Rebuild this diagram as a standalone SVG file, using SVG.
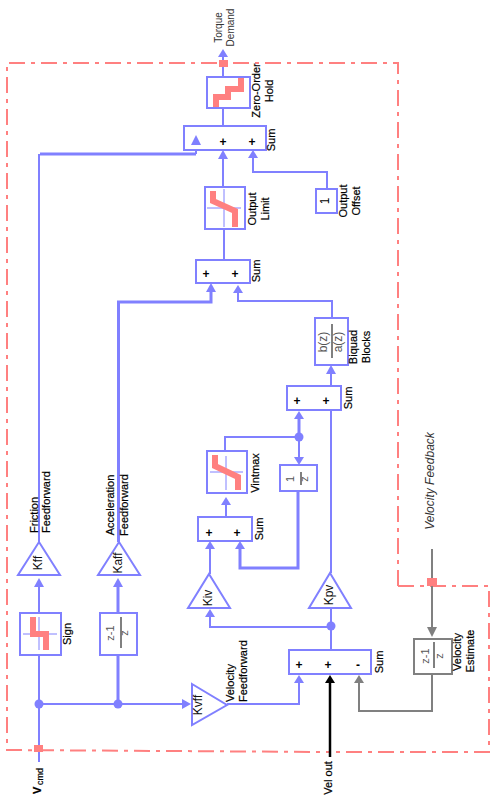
<svg xmlns="http://www.w3.org/2000/svg" width="503" height="800" viewBox="0 0 503 800">
<style>
text{font-family:"Liberation Sans",Arial,sans-serif;font-size:11px;fill:#000;stroke:#000;stroke-width:.2}
.m{text-anchor:middle}
.g{font-size:12px;fill:#111;text-anchor:middle}
.t{font-size:11px;fill:#555;stroke:none;text-anchor:middle}
.p{font-weight:bold;font-size:12px;text-anchor:middle;stroke:none}
.box{fill:#fff;stroke:#8080ff;stroke-width:2}
.gbox{fill:#fff;stroke:#808080;stroke-width:2}
.w{fill:none;stroke:#8080ff;stroke-width:2}
.w3{fill:none;stroke:#8080ff;stroke-width:3}
.gw{fill:none;stroke:#808080;stroke-width:2}
.xh{fill:none;stroke:#8080ff;stroke-width:1}
.pk{fill:none;stroke:#ff8080;stroke-width:6}
.dv{stroke:#808080;stroke-width:2}
.af{fill:#8080ff}
.ag{fill:#808080}
.border{fill:none;stroke:#ff8080;stroke-width:2;stroke-dasharray:16 6 4 6}
.sq{fill:#ff8080}
.n{stroke:none}
</style>
<g id="boundary">
<path class="border" d="M398 586V63H7V750L330 752"/>
<path class="border" d="M398 586H489V752H330"/>
</g>
<g id="connectors">
<path class="w" d="M223 57V77M223 108V126M223 159V187M224 229V260"/>
<path class="w" d="M196 145V154"/>
<path class="w3" d="M40 154H196"/>
<path class="w" d="M39 542V154"/>
<path class="w" d="M253 158V172H327V189"/>
<path class="w3" d="M211 292V302H118.500V542"/>
<path class="w" d="M238 293V301H332V318"/>
<path class="w" d="M331 374V386M331 410V573M331 608V650"/>
<path class="w3" d="M299 419V437"/>
<path class="w" d="M299 437V457M299 437H225V451"/>
<path class="w3" d="M298 491V568H240V549"/>
<path class="w" d="M226 505V517M210 549V574M210 617V627H331"/>
<path class="w" d="M39 587V613M39 655V762M39 704H183M227 704H299V683"/>
<path class="w3" d="M118 587V613M118 655V704"/>
<path class="gw" d="M359 683V711H432V674M432 549V627"/>
<path fill="none" stroke="#000" stroke-width="2.500" d="M330 683V757"/>
<g class="af">
<path d="M223 49L218 57H228Z"/>
<path d="M223 150L218 159H228Z"/>
<path d="M253 150L248 158H258Z"/>
<path d="M211 283L206 292H216Z"/>
<path d="M238 285L233 293H243Z"/>
<path d="M331 365L326 374H336Z"/>
<path d="M299 411L294 419H304Z"/>
<path d="M299 465L294 457H304Z"/>
<path d="M226 497L221 505H231Z"/>
<path d="M210 541L205 549H215Z"/>
<path d="M240 541L235 549H245Z"/>
<path d="M210 609L205 617H215Z"/>
<path d="M39 578L34 587H44Z"/>
<path d="M118 578L113 587H123Z"/>
<path d="M191 704L182 699V709Z"/>
<path d="M299 675L294 683H304Z"/>
<circle cx="299" cy="437" r="4.500"/>
<circle cx="331" cy="626" r="4.500"/>
<circle cx="39" cy="704" r="4.500"/>
<circle cx="118" cy="704" r="4.500"/>
</g>
<path d="M330 675L325 683H335Z" fill="#000"/>
<path class="ag" d="M359 675L354 683H364Z"/>
<path class="ag" d="M432 637L427 627H437Z"/>
<rect class="sq" x="219" y="60" width="9" height="7"/>
<rect class="sq" x="34" y="745" width="9" height="7"/>
<rect class="sq" x="427" y="578" width="10" height="8"/>
</g>
<g id="zoh">
<rect class="box" x="207" y="77" width="43" height="31"/>
<path class="pk" d="M216 107V97H228V89H241V78"/>
<text class="m" transform="translate(260 90.500) rotate(-90)">Zero-Order</text>
<text class="m" transform="translate(273 91) rotate(-90)">Hold</text>
</g>
<g id="sum1">
<rect class="box" x="184" y="126" width="82" height="24"/>
<path class="af" d="M196 135L191 145H201Z"/>
<text class="p" x="223" y="146">+</text>
<text class="p" x="252" y="146">+</text>
<text class="m" transform="translate(275 140) rotate(-90)">Sum</text>
</g>
<g id="output-limit">
<rect class="box" x="205" y="187" width="40" height="42"/>
<path class="xh" d="M207 208H241M224 189V227"/>
<path class="pk" d="M213 191V201L235 211V227"/>
<text class="m" transform="translate(256 209) rotate(-90)">Output</text>
<text class="m" transform="translate(269 209) rotate(-90)">Limit</text>
</g>
<g id="output-offset">
<rect class="box" x="316" y="189" width="21" height="24"/>
<text class="p" transform="translate(329 201) rotate(-90)" style="font-weight:normal">1</text>
<text class="m" transform="translate(347 201) rotate(-90)">Output</text>
<text class="m" transform="translate(360 201) rotate(-90)">Offset</text>
</g>
<g id="sum2">
<rect class="box" x="196" y="260" width="54" height="23"/>
<text class="p" x="206" y="278">+</text>
<text class="p" x="235" y="278">+</text>
<text class="m" transform="translate(260 271) rotate(-90)">Sum</text>
</g>
<g id="biquad">
<rect class="box" x="315" y="318" width="33" height="47"/>
<path class="dv" d="M332 324V358"/>
<text class="t" style="font-size:12px" transform="translate(327 342) rotate(-90)">b(z)</text>
<text class="t" style="font-size:12px" transform="translate(342 342) rotate(-90)">a(z)</text>
<text class="m" transform="translate(357 347) rotate(-90)">Biquad</text>
<text class="m" transform="translate(370 347) rotate(-90)">Blocks</text>
</g>
<g id="sum3">
<rect class="box" x="287" y="386" width="54" height="24"/>
<text class="p" x="297" y="405">+</text>
<text class="p" x="326" y="405">+</text>
<text class="m" transform="translate(352 398) rotate(-90)">Sum</text>
</g>
<g id="vintmax">
<rect class="box" x="207" y="451" width="40" height="42"/>
<path class="xh" d="M210 472H243M226 456V490"/>
<path class="pk" d="M215 455V466L238 477V490"/>
<text class="m" transform="translate(259 473) rotate(-90)">Vintmax</text>
</g>
<g id="integrator">
<rect class="box" x="280" y="465" width="37" height="26"/>
<path class="dv" d="M301 472V485"/>
<text class="t" transform="translate(294 479) rotate(-90)">1</text>
<text class="t" transform="translate(308 479) rotate(-90)">z</text>
</g>
<g id="sum4">
<rect class="box" x="198" y="517" width="54" height="24"/>
<text class="p" x="209" y="537">+</text>
<text class="p" x="237" y="537">+</text>
<text class="m" transform="translate(263 529) rotate(-90)">Sum</text>
</g>
<g id="kff">
<path class="box" d="M39 542L60 575H18Z"/>
<text class="g n" transform="translate(42 563) rotate(-90)">Kff</text>
<text transform="translate(38 533) rotate(-90)">Friction</text>
<text transform="translate(50 533) rotate(-90)">Feedforward</text>
</g>
<g id="kaff">
<path class="box" d="M119 542L140 575H98Z"/>
<text class="g n" transform="translate(122 563) rotate(-90)">Kaff</text>
<text class="m" transform="translate(114 505) rotate(-90)">Acceleration</text>
<text class="m" transform="translate(128 505) rotate(-90)">Feedforward</text>
</g>
<g id="kiv">
<path class="box" d="M209 574L230 608H188Z"/>
<text class="g n" transform="translate(212 598) rotate(-90)">Kiv</text>
</g>
<g id="kpv">
<path class="box" d="M330 573L351 608H309Z"/>
<text class="g n" transform="translate(333 595) rotate(-90)">Kpv</text>
</g>
<g id="sign">
<rect class="box" x="20" y="613" width="41" height="42"/>
<path class="xh" d="M23 634H57M39 617V650"/>
<path class="pk" d="M33 617V634H46V650"/>
<text class="m" transform="translate(71 634) rotate(-90)">Sign</text>
</g>
<g id="diff-acc">
<rect class="box" x="100" y="613" width="37" height="42"/>
<path class="dv" d="M121 617V648"/>
<text class="t" transform="translate(114 633) rotate(-90)">z-1</text>
<text class="t" transform="translate(128 633) rotate(-90)">z</text>
</g>
<g id="kvff">
<path class="box" d="M192 684L227 705L192 725Z"/>
<text class="g n" transform="translate(202 705) rotate(-90)">Kvff</text>
<text transform="translate(234 702) rotate(-90)">Velocity</text>
<text transform="translate(247 702) rotate(-90)">Feedforward</text>
</g>
<g id="sum5">
<rect class="box" x="289" y="650" width="82" height="24"/>
<text class="p" x="299" y="669">+</text>
<text class="p" x="328" y="669">+</text>
<text class="p" x="358" y="669">-</text>
<text class="m" transform="translate(383 662) rotate(-90)">Sum</text>
</g>
<g id="velocity-estimate">
<rect class="gbox" x="414" y="639" width="38" height="35"/>
<path class="dv" d="M434 642V668"/>
<text class="t" transform="translate(429 656) rotate(-90)">z-1</text>
<text class="t" transform="translate(443 656) rotate(-90)">z</text>
<text class="m" transform="translate(461 652) rotate(-90)">Velocity</text>
<text class="m" transform="translate(474 651) rotate(-90)">Estimate</text>
</g>
<g id="labels">
<text class="m n" style="font-size:10px;fill:#333" transform="translate(222 27.500) rotate(-90)">Torque</text>
<text class="m n" style="font-size:10px;fill:#333" transform="translate(234 27.500) rotate(-90)">Demand</text>
<text class="m n" style="font-style:italic;font-size:12px;fill:#333" transform="translate(434 481) rotate(-90)">Velocity Feedback</text>
<text class="m" transform="translate(332 778) rotate(-90)">Vel out</text>
<text style="font-size:11px;font-weight:bold" transform="translate(41 794) rotate(-90)">V</text>
<text style="font-size:9px" transform="translate(43 785) rotate(-90)">cmd</text>
</g>
</svg>
